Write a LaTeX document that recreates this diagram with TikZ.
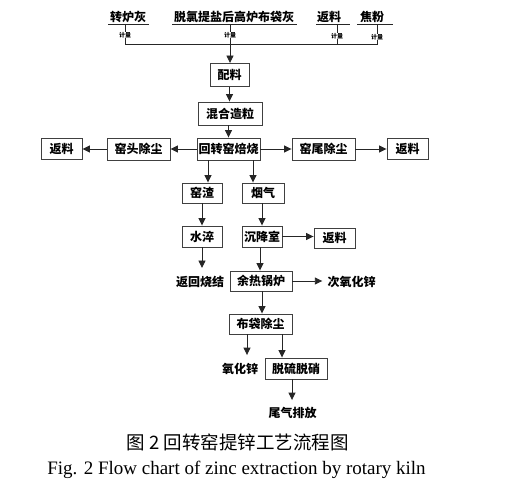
\documentclass[tikz,border=0pt]{standalone}
\usepackage{fontspec}
\setmainfont{Liberation Serif}
\newfontfamily\cjk{Noto Sans CJK SC}
\usetikzlibrary{arrows.meta,calc}
\begin{document}
\begin{tikzpicture}[x=1pt,y=-1pt,
  ln/.style={draw=black!85,line width=0.9pt},
  arr/.style={ln,-{Triangle[length=7.5pt,width=7pt]}},
  bx/.style={draw=black!75,line width=0.9pt,inner sep=0pt,font=\cjk\bfseries\fontsize{12}{12}\selectfont},
  tx/.style={inner sep=0pt,font=\cjk\bfseries\fontsize{12}{12}\selectfont},
  tk/.style={inner sep=0.5pt,fill=white,font=\cjk\bfseries\fontsize{6}{6}\selectfont}]
\useasboundingbox (0,0) rectangle (516,484);
% top raw materials
\node[tx] (m1) at (128,17) {转炉灰};
\node[tx] (m2) at (234,17) {脱氯提盐后高炉布袋灰};
\node[tx] (m3) at (329,17) {返料};
\node[tx] (m4) at (372,17) {焦粉};
\coordinate (u1a) at (108,24); \coordinate (u1b) at (149,24);
\coordinate (u2a) at (172,24); \coordinate (u2b) at (297,24);
\coordinate (u3a) at (316,24); \coordinate (u3b) at (350,24);
\coordinate (u4a) at (357,24); \coordinate (u4b) at (393,24);
\draw[ln] (u1a) -- (u1b); \draw[ln] (u2a) -- (u2b);
\draw[ln] (u3a) -- (u3b); \draw[ln] (u4a) -- (u4b);
\coordinate (h1) at (125,44); \coordinate (h4) at (377,44);
\coordinate (h2) at (230,44);
\draw[ln] (125,24) -- (h1) -- (h4) -- (377,24);
\draw[ln] (230,24) -- (h2);
\draw[ln] (337,24) -- (337,44);
\node[tk] (k1) at (125,35) {计量};
\node[tk] (k2) at (230,35) {计量};
\node[tk] (k3) at (337,36) {计量};
\node[tk] (k4) at (377,37) {计量};
% boxes
\node[bx,minimum width=39pt,minimum height=23pt] (pl) at (229.5,75) {配料};
\node[bx,minimum width=64pt,minimum height=23pt] (hh) at (230,113.5) {混合造粒};
\node[bx,minimum width=63pt,minimum height=22pt] (kiln) at (228.5,149) {回转窑焙烧};
\node[bx,minimum width=63pt,minimum height=22pt] (yt) at (138.5,149) {窑头除尘};
\node[bx,minimum width=41pt,minimum height=21pt] (fl1) at (61.5,149) {返料};
\node[bx,minimum width=63pt,minimum height=22pt] (yw) at (323.5,149) {窑尾除尘};
\node[bx,minimum width=41pt,minimum height=21pt] (fl2) at (407.5,149) {返料};
\node[bx,minimum width=40pt,minimum height=20pt] (slag) at (202,193) {窑渣};
\node[bx,minimum width=42pt,minimum height=20pt] (gas) at (263,193) {烟气};
\node[bx,minimum width=40pt,minimum height=21pt] (sc) at (202,236.5) {水淬};
\node[bx,minimum width=40pt,minimum height=21pt] (cjs) at (262,236.5) {沉降室};
\node[bx,minimum width=41pt,minimum height=20pt] (fl3) at (334.5,238) {返料};
\node[bx,minimum width=62pt,minimum height=20pt] (yr) at (261,281) {余热锅炉};
\node[bx,minimum width=63pt,minimum height=20pt] (bd) at (260.5,324) {布袋除尘};
\node[bx,minimum width=62pt,minimum height=21pt] (tl) at (296,368.5) {脱硫脱硝};
\node[tx] (hs) at (200,282) {返回烧结};
\node[tx] (cy) at (351.5,282) {次氧化锌};
\node[tx] (yh) at (240,369) {氧化锌};
\node[tx] (wq) at (292.5,413) {尾气排放};
% arrows
\draw[arr] (h2) -- (h2 |- pl.north);
\draw[arr] (pl) -- (pl.south |- hh.north);
\draw[arr] (hh.south -| kiln.north) -- (kiln.north);
\draw[arr] (kiln) -- (yt);
\draw[arr] (yt) -- (fl1);
\draw[arr] (kiln) -- (yw);
\draw[arr] (yw) -- (fl2);
\draw[arr] ([xshift=-20.5pt]kiln.south) -- ([xshift=-20.5pt]kiln.south |- slag.north);
\draw[arr] ([xshift=24.5pt]kiln.south) -- ([xshift=24.5pt]kiln.south |- gas.north);
\draw[arr] (slag) -- (sc);
\draw[arr] ([xshift=-1pt]gas.south) -- ([xshift=-1pt]gas.south |- cjs.north);
\draw[arr] (sc.south) -- ([yshift=8pt]sc.south |- hs.north);
\draw[arr] (cjs.east) -- (fl3.west |- cjs.east);
\draw[arr] ([xshift=-2pt]cjs.south) -- ([xshift=-2pt]cjs.south |- yr.north);
\draw[arr] (yr.east) -- ([xshift=-5pt]cy.west |- yr.east);
\draw[arr] ([xshift=1pt]yr.south) -- ([xshift=1pt]yr.south |- bd.north);
\draw[arr] ([xshift=-13.5pt]bd.south) -- ([xshift=-13.5pt,yshift=8pt]bd.south |- yh.north);
\draw[arr] ([xshift=21.5pt]bd.south) -- ([xshift=21.5pt]bd.south |- tl.north);
\draw[arr] ([xshift=-4pt]tl.south) -- ([xshift=-4pt,yshift=7pt]tl.south |- wq.north);
% captions
\node[inner sep=0pt,font=\cjk\fontsize{18.5}{19}\selectfont] (cap1) at (237.5,442) {图 2 回转窑提锌工艺流程图};
\node[inner sep=0pt,font=\fontsize{19}{19}\selectfont] (cap2) at (236.5,470) {Fig. 2 Flow chart of zinc extraction by rotary kiln};
\end{tikzpicture}
\end{document}
